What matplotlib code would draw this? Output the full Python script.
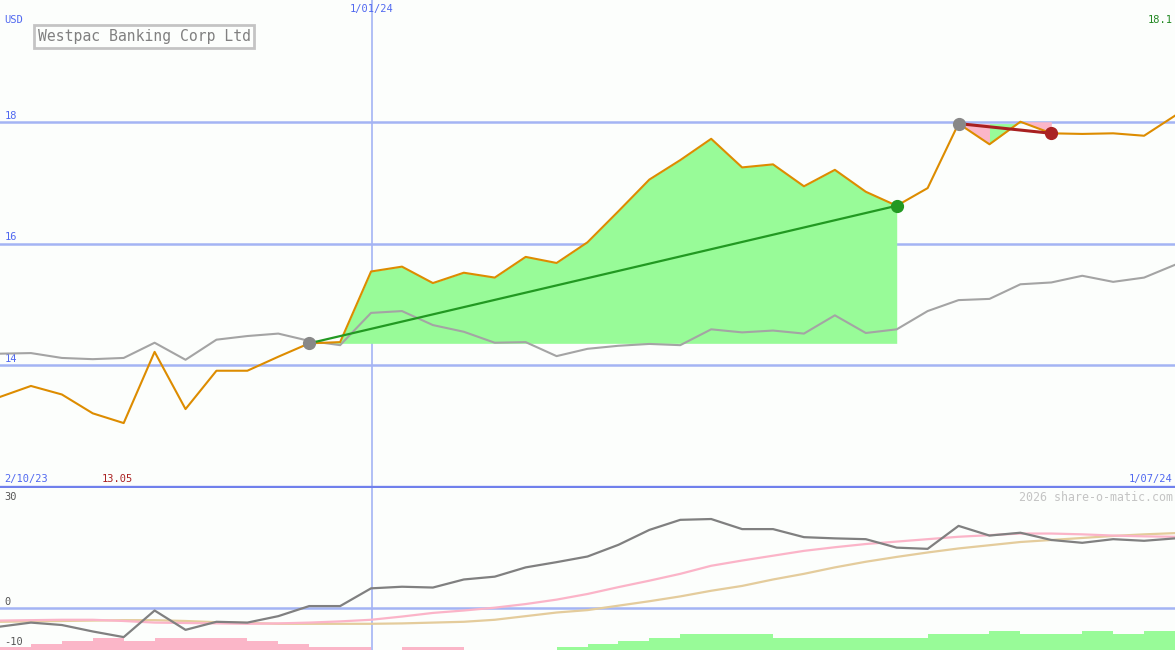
import matplotlib
matplotlib.use("Agg")
import matplotlib.pyplot as plt
import numpy as np

# weekly closes, 2/10/23 .. 1/07/24
price = [13.48, 13.66, 13.52, 13.21, 13.05, 14.22, 13.28, 13.91, 13.91, 14.14,
         14.36, 14.38, 15.54, 15.62, 15.35, 15.52, 15.44, 15.78, 15.68, 16.02,
         16.53, 17.05, 17.37, 17.72, 17.25, 17.30, 16.94, 17.21, 16.85, 16.62,
         16.91, 17.97, 17.63, 18.00, 17.81, 17.80, 17.81, 17.77, 18.10]
# comparison line (grey)
index_line = [14.19, 14.20, 14.12, 14.10, 14.12, 14.37, 14.09, 14.42, 14.48, 14.52,
              14.40, 14.33, 14.86, 14.89, 14.66, 14.55, 14.37, 14.38, 14.15, 14.27,
              14.32, 14.35, 14.33, 14.59, 14.54, 14.57, 14.52, 14.82, 14.53, 14.59,
              14.89, 15.07, 15.09, 15.33, 15.36, 15.47, 15.37, 15.44, 15.65]

# lower panel
osc = [-4.7, -3.7, -4.3, -5.9, -7.3, -0.7, -5.5, -3.5, -3.7, -2.1,
       0.4, 0.4, 4.8, 5.2, 5.0, 7.0, 7.7, 10.0, 11.3, 12.7,
       15.6, 19.3, 21.8, 22.0, 19.5, 19.5, 17.5, 17.2, 17.0, 14.9,
       14.6, 20.3, 17.9, 18.6, 16.8, 16.1, 17.0, 16.6, 17.2]
osc_fast = [-3.2, -3.1, -3.0, -3.0, -3.3, -3.7, -3.8, -3.9, -4.0, -3.9,
            -3.7, -3.4, -3.0, -2.2, -1.3, -0.7, 0.0, 0.9, 2.0, 3.4,
            5.1, 6.7, 8.4, 10.4, 11.7, 12.9, 14.1, 15.0, 15.8, 16.4,
            17.0, 17.6, 18.0, 18.4, 18.4, 18.2, 17.9, 17.7, 17.6]
osc_slow = [-3.5, -3.4, -3.3, -3.2, -3.1, -3.1, -3.3, -3.6, -3.8, -4.0,
            -4.0, -4.0, -4.0, -3.9, -3.7, -3.5, -3.0, -2.1, -1.2, -0.6,
            0.5, 1.6, 2.8, 4.2, 5.4, 7.0, 8.4, 10.0, 11.4, 12.6,
            13.7, 14.7, 15.5, 16.3, 16.8, 17.3, 17.8, 18.2, 18.5]
hist = [-1, -2, -3, -4, -3, -4, -4, -4, -3, -2,
        -1, -1, 0, -1, -1, 0, 0, 0, 1, 2,
        3, 4, 5, 5, 5, 4, 4, 4, 4, 4,
        5, 5, 6, 5, 5, 6, 5, 6, 6]

# trades: (entry index, exit index)
trade_win = (10, 29)
trade_loss = (31, 34)

blue_txt = '#5068f0'
grid_c = '#a4b4f4'
bg = '#fcfefc'
mono = 'DejaVu Sans Mono'
fs = 7.5

x = np.arange(len(price))

fig = plt.figure(figsize=(11.75, 6.5), dpi=100)
fig.patch.set_facecolor(bg)
ax = fig.add_axes([0, 163 / 650, 1, 487 / 650])
ax2 = fig.add_axes([0, 0, 1, 162 / 650])
for a in (ax, ax2):
    a.set_facecolor(bg)
    a.set_xlim(0, 38)
    a.set_xticks([])
    a.set_yticks([])
    for s in a.spines.values():
        s.set_visible(False)
    a.axvline(12.03, color=grid_c, lw=1.2, zorder=1)

# ---- top panel
ax.set_ylim(12, 20)
for lvl in [14, 16, 18]:
    ax.axhline(lvl, color=grid_c, lw=1.8, zorder=1)
    ax.text(0.15, lvl + 0.1, str(lvl), color=blue_txt, fontsize=fs,
            family=mono, va='center', ha='left')

# winning trade fill
e0, e1 = trade_win
seg = x[e0:e1 + 1]
ax.fill_between(seg, price[e0:e1 + 1], price[e0], color='#98fb98', lw=0, zorder=2)

# losing trade fills, drawn segment by segment against the running peak
l0, l1 = trade_loss
peak = price[l0]
for i in range(l0, l1):
    peak = max(peak, price[i])
    col = '#98fb98' if price[i + 1] > price[i] else '#fbb6c8'
    ax.fill_between([i, i + 1], [price[i], price[i + 1]], peak, color=col, lw=0, zorder=2)

ax.plot(x, index_line, color='#a4a4a4', lw=1.5, zorder=3)
ax.plot(x, price, color='#dd8c00', lw=1.5, zorder=4)

ax.plot([e0, e1], [price[e0], price[e1]], color='#229922', lw=1.6, zorder=5)
ax.plot([l0, l1], [price[l0], price[l1]], color='#a82020', lw=2.2, zorder=5)
ax.plot([e0, l0], [price[e0], price[l0]], 'o', color='#888888', ms=8.5, zorder=6)
ax.plot(e1, price[e1], 'o', color='#229922', ms=8.5, zorder=6)
ax.plot(l1, price[l1], 'o', color='#aa2222', ms=8.5, zorder=6)

ax.text(0.15, 19.67, 'USD', color=blue_txt, fontsize=fs, family=mono, va='center')
ax.text(12.03, 19.85, '1/01/24', color=blue_txt, fontsize=fs, family=mono,
        va='center', ha='center')
ax.text(37.93, 19.67, '%.1f' % price[-1], color='#228822', fontsize=fs,
        family=mono, va='center', ha='right')
ax.text(1.22, 19.40, 'Westpac Banking Corp Ltd', color='#808080', fontsize=10.6,
        family=mono, va='center', ha='left',
        bbox=dict(boxstyle='square,pad=0.25', fc='none', ec='#c4c4c4', lw=2))
ax.text(0.15, 12.13, '2/10/23', color=blue_txt, fontsize=fs, family=mono, va='center')
imin = int(np.argmin(price))
ax.text(imin - 0.2, 12.13, '%.2f' % price[imin], color='#aa2222', fontsize=fs,
        family=mono, va='center', ha='center')
ax.text(37.93, 12.13, '1/07/24', color=blue_txt, fontsize=fs, family=mono,
        va='center', ha='right')
ax.axhline(12, color='#7080ec', lw=2.4, zorder=7, clip_on=False)

# ---- bottom panel
lo, hi = -10.5, 29.7
ax2.set_ylim(lo, hi)
ax2.axhline(0, color=grid_c, lw=1.8, zorder=1)
step = 0.77
for i, h in enumerate(hist):
    if h == 0:
        continue
    col = '#98fb98' if h > 0 else '#fbb6c8'
    ax2.bar(i, abs(h) * step, width=1, bottom=lo, align='edge', color=col, lw=0, zorder=2)
ax2.plot(x, osc_slow, color='#e4cc9c', lw=1.6, zorder=3)
ax2.plot(x, osc_fast, color='#fbb4c8', lw=1.6, zorder=3)
ax2.plot(x, osc, color='#808080', lw=1.6, zorder=4)

ax2.text(0.15, 27.4, '30', color='#555555', fontsize=fs, family=mono, va='center')
ax2.text(0.15, 1.4, '0', color='#555555', fontsize=fs, family=mono, va='center')
ax2.text(0.15, -8.6, '-10', color='#555555', fontsize=fs, family=mono, va='center')
ax2.text(37.93, 27.4, '2026 share-o-matic.com', color='#c4c4c4', fontsize=8.4,
         family=mono, va='center', ha='right')

fig.savefig('out.png', dpi=100, facecolor=bg)
